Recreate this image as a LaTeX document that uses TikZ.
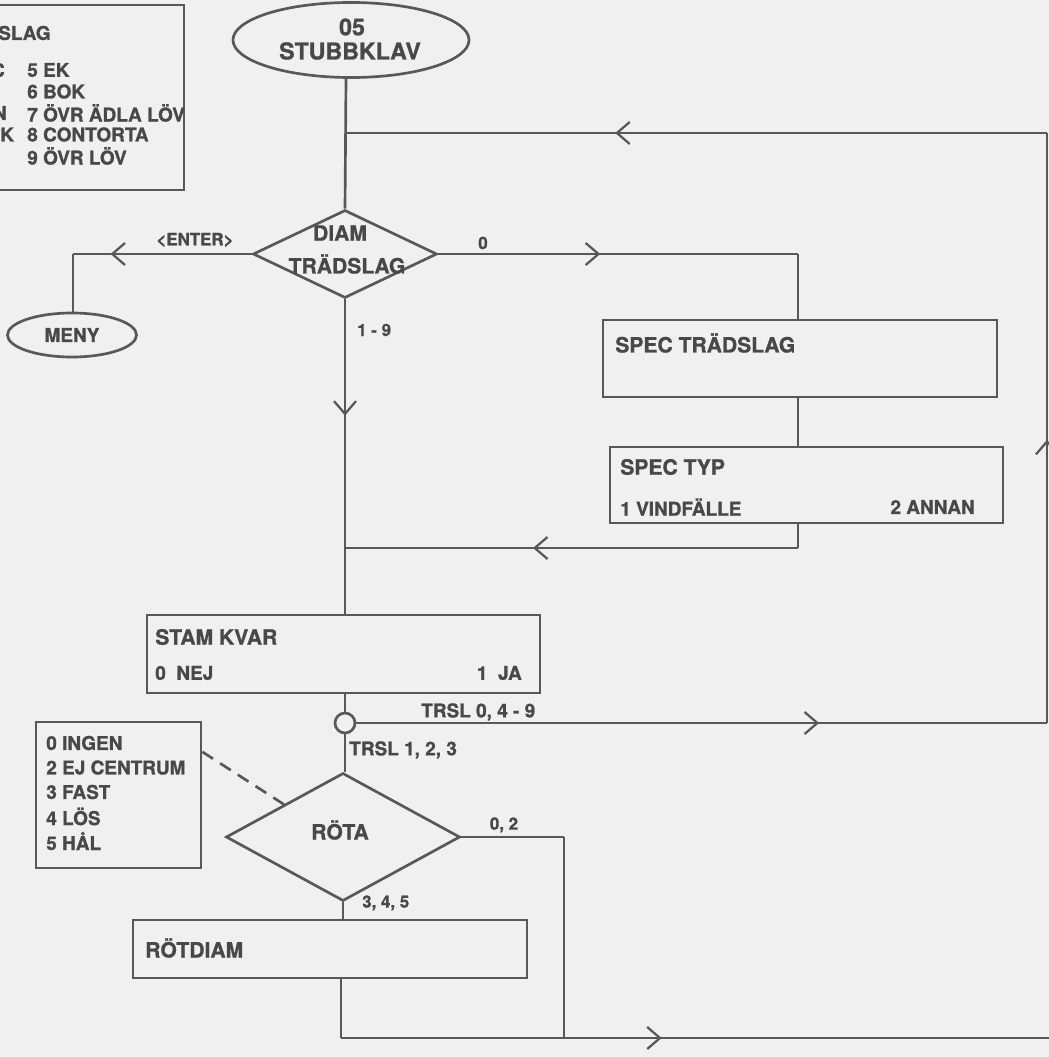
\documentclass[tikz,border=0pt]{standalone}
\usepackage{fontspec}
\setmainfont{TeX Gyre Heros}[BoldFeatures={FakeBold=1}]
\usetikzlibrary{shapes.geometric,arrows.meta,decorations.markings,calc}
\definecolor{paper}{RGB}{240,240,240}
\definecolor{ink}{RGB}{88,88,88}
\definecolor{txt}{RGB}{72,72,72}

\begin{document}
\begin{tikzpicture}[x=0.025cm, y=-0.025cm,
    flow/.style={draw=ink, line width=1.9pt},
    box/.style={rectangle, draw=ink, line width=1.9pt, inner sep=0},
    beslut/.style={diamond, draw=ink, line width=1.9pt, inner sep=0},
    rund/.style={ellipse, draw=ink, line width=1.9pt, inner sep=0},
    big/.style={inner sep=0, text=txt, font=\bfseries\fontsize{15}{18}\selectfont},
    small/.style={inner sep=0, text=txt, font=\bfseries\fontsize{13.5}{16}\selectfont},
    lbl/.style={inner sep=0, text=txt, font=\bfseries\fontsize{12}{14}\selectfont},
    chev/.style={postaction={decorate}, decoration={markings,
        mark=at position #1 with {\arrow{Straight Barb[length=3.2mm, width=5.5mm, line width=1.6pt]}}}}]
                        \useasboundingbox[fill=paper] (0,0) rectangle (1049,1057);
                        \clip (0,0) rectangle (1049,1057);

                        % Nodes
                        \node[rund, minimum width=5.9cm, minimum height=1.875cm] (stub) at (351,40) {};
                        \node[big, font=\bfseries\fontsize{16.5}{19}\selectfont] (stubnr) at (352,27) {05};
                        \node[big, font=\bfseries\fontsize{16.5}{19}\selectfont] (stubtxt) at (350,51) {STUBBKLAV};

                        \node[box, minimum width=4.85cm, minimum height=4.625cm] (leg1) at (87,97.5) {};
                        \node[small, anchor=west] (leg1t) at (-2,33) {SLAG};
                        \node[small, anchor=east] (leg1a) at (5,70) {C};
                        \node[small, anchor=east] (leg1c) at (7,113) {N};
                        \node[small, anchor=west] (leg1d) at (0,134.5) {K};
                        \node[small, anchor=west] (ek) at (27,70) {5 EK};
                        \node[small, anchor=west] (bok) at (27,91.5) {6 BOK};
                        \node[small, anchor=west] (adla) at (27,113) {7 ÖVR ÄDLA LÖV};
                        \node[small, anchor=west] (cont) at (27,134.5) {8 CONTORTA};
                        \node[small, anchor=west] (ovr) at (27,156) {9 ÖVR LÖV};

                        \node[beslut, minimum width=4.6cm, minimum height=2.2cm] (dtr) at (345,254) {};
                        \node[big] (dtr1) at (340,233) {DIAM};
                        \node[big] (dtr2) at (347,264) {TRÄDSLAG};
                        \node[lbl] (enter) at (195,240) {\textless ENTER\textgreater};
                        \node[lbl] (noll) at (483,243) {0};
                        \node[lbl, anchor=west] (ettnio) at (357,330) {1 - 9};

                        \node[rund, minimum width=3.225cm, minimum height=1.1cm] (meny) at (72,335) {};
                        \node[small] (menyt) at (72,335) {MENY};

                        \node[box, minimum width=9.85cm, minimum height=1.925cm] (spectr) at (800,358.5) {};
                        \node[big, anchor=west] (spectrt) at (615,343) {SPEC TRÄDSLAG};
                        \node[box, minimum width=9.825cm, minimum height=1.9cm] (spectyp) at (806.5,485) {};
                        \node[big, anchor=west] (spectypt) at (620,467) {SPEC TYP};
                        \node[small, anchor=west] (vind) at (620,507) {1 VINDFÄLLE};
                        \node[small, anchor=east] (annan) at (975,507) {2 ANNAN};

                        \node[box, minimum width=9.825cm, minimum height=1.95cm] (stam) at (343.5,654) {};
                        \node[big, anchor=west] (stamt) at (155,637) {STAM KVAR};
                        \node[small, anchor=west] (nej) at (155,673) {0\ \ NEJ};
                        \node[small, anchor=east] (ja) at (522,673) {1\ \ JA};

                        \node[circle, draw=ink, line width=1.9pt, minimum size=0.5cm, inner sep=0] (sw) at (345,723) {};
                        \node[small, anchor=west] (trsla) at (421,712) {TRSL 0, 4 - 9};
                        \node[small, anchor=west] (trslb) at (349,750) {TRSL 1, 2, 3};

                        \node[box, minimum width=4.125cm, minimum height=3.65cm] (leg2) at (118.5,795) {};
                        \node[small, anchor=west] (ingen) at (46,743) {0 INGEN};
                        \node[small, anchor=west] (ejc) at (46,767.5) {2 EJ CENTRUM};
                        \node[small, anchor=west] (fast) at (46,792) {3 FAST};
                        \node[small, anchor=west] (los) at (46,816.5) {4 LÖS};
                        \node[small, anchor=west] (hal) at (46,841) {5 HÅL};

                        \node[beslut, minimum width=5.85cm, minimum height=3.2cm] (rota) at (343,837) {};
                        \node[big] (rotat) at (340,830) {RÖTA};
                        \node[lbl] (nolltva) at (504,825) {0, 2};
                        \node[lbl, anchor=west] (trefem) at (362,903) {3, 4, 5};

                        \node[box, minimum width=9.85cm, minimum height=1.45cm] (rotd) at (330,949) {};
                        \node[big, anchor=west] (rotdt) at (145,948) {RÖTDIAM};

                        \coordinate (tj) at (346,133);
                        \coordinate (tr) at (1047,133);
                        \coordinate (re) at (1047,723);
                        \coordinate (ml) at (73,254);
                        \coordinate (mr) at (798,254);
                        \coordinate (jn) at (798,548);
                        \coordinate (jm) at (345,548);
                        \coordinate (rc) at (564,837);
                        \coordinate (rb) at (564,1038);
                        \coordinate (bl) at (341,1038);
                        \coordinate (be) at (1049,1038);

                        % Edges
                        \draw[flow] (tj |- stub.south) -- (dtr.north);
                        \draw[flow, chev=0.48] (re) -- (tr);
                        \draw[flow, chev=0.616] (tr) -- (tj);

                        \draw[flow, chev=0.79] (dtr.west) -- (ml);
                        \draw[flow] (ml) -- (meny.north -| ml);
                        \draw[flow, chev=0.45] (dtr.east) -- (mr);
                        \draw[flow] (mr) -- (mr |- spectr.north);
                        \draw[flow] (mr |- spectr.south) -- (mr |- spectyp.north);
                        \draw[flow] (mr |- spectyp.south) -- (jn);
                        \draw[flow, chev=0.585] (jn) -- (jm);

                        \draw[flow, chev=0.37] (dtr.south) -- (dtr.south |- stam.north);
                        \draw[flow] (sw |- stam.south) -- (sw.north);
                        \draw[flow, chev=0.67] (sw.east) -- (re);
                        \draw[flow] (sw.south) -- (rota.north -| sw.south);
                        \draw[flow, dashed, dash pattern=on 9pt off 6pt] ([yshift=-0.78cm]leg2.north east) -- ($(rota.north)!0.5!(rota.west)$);

                        \draw[flow] (rota.east) -- (rc);
                        \draw[flow] (rc) -- (rb);
                        \draw[flow] (rota.south) -- (rota.south |- rotd.north);
                        \draw[flow] (bl |- rotd.south) -- (bl);
                        \draw[flow, chev=0.453] (bl) -- (be);
\end{tikzpicture}
\end{document}
